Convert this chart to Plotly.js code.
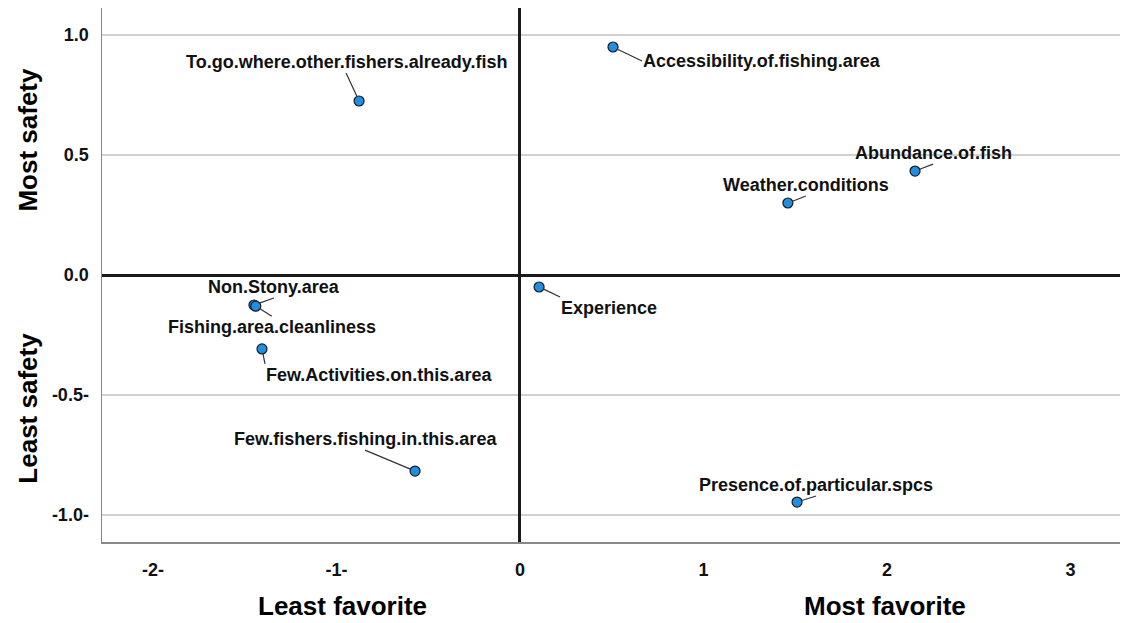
<!DOCTYPE html>
<html>
<head>
<meta charset="utf-8">
<script src="https://cdn.plot.ly/plotly-3.0.1.min.js"></script>
<style>html,body{margin:0;padding:0;background:#fff;}#chart{width:1122px;height:623px;}</style>
</head>
<body>
<div id="chart"></div>
<script>
// ---- data ----
const itemNames = [
  "To.go.where.other.fishers.already.fish",
  "Accessibility.of.fishing.area",
  "Abundance.of.fish",
  "Weather.conditions",
  "Experience",
  "Non.Stony.area",
  "Fishing.area.cleanliness",
  "Few.Activities.on.this.area",
  "Few.fishers.fishing.in.this.area",
  "Presence.of.particular.spcs"
];
const favoriteScores = [-0.877, 0.507, 2.153, 1.46, 0.104, -1.45, -1.44, -1.406, -0.572, 1.51];
const safetyScores   = [0.725, 0.95, 0.433, 0.30, -0.05, -0.125, -0.13, -0.308, -0.817, -0.946];

const xTickVals = [-2, -1, 0, 1, 2, 3];
const xTickText = ["-2-", "-1-", "0", "1", "2", "3"];
const yTickVals = [-1, -0.5, 0, 0.5, 1];
const yTickText = ["-1.0-", "-0.5-", "0.0", "0.5", "1.0"];

// ---- label placement (layout only) ----
const labelPlacement = [
  {ax: -13, ay: -28, xa: "center", ya: "bottom"},
  {ax: 29,  ay: 14,  xa: "left",   ya: "middle"},
  {ax: 18,  ay: -7,  xa: "center", ya: "bottom"},
  {ax: 18,  ay: -7,  xa: "center", ya: "bottom"},
  {ax: 21,  ay: 10,  xa: "left",   ya: "top"},
  {ax: 20,  ay: -7,  xa: "center", ya: "bottom"},
  {ax: 16,  ay: 10,  xa: "center", ya: "top"},
  {ax: 3,   ay: 15,  xa: "left",   ya: "top"},
  {ax: -50, ay: -21, xa: "center", ya: "bottom"},
  {ax: 19,  ay: -6,  xa: "center", ya: "bottom"}
];

const FONT = "Liberation Sans, Arial, Helvetica, sans-serif";

const trace = {
  type: "scatter",
  mode: "markers",
  x: favoriteScores,
  y: safetyScores,
  text: itemNames,
  hoverinfo: "text",
  marker: {size: 10, color: "#1f8fe3", line: {width: 1.2, color: "#1a1a1a"}},
  showlegend: false
};

const annotations = itemNames.map((name, i) => ({
  x: favoriteScores[i], y: safetyScores[i], xref: "x", yref: "y",
  text: name,
  showarrow: true, arrowhead: 0, arrowwidth: 1.2, arrowcolor: "#333",
  standoff: 5,
  ax: labelPlacement[i].ax, ay: labelPlacement[i].ay,
  xanchor: labelPlacement[i].xa, yanchor: labelPlacement[i].ya,
  font: {family: FONT, size: 18, color: "#111", weight: "bold"},
  borderpad: 0
}));

const titleFont = {family: FONT, size: 26, color: "#000", weight: "bold"};
annotations.push(
  {xref: "paper", yref: "paper", x: -0.073, y: 0.753, text: "Most safety", showarrow: false, textangle: -90, font: titleFont, xanchor: "center", yanchor: "middle"},
  {xref: "paper", yref: "paper", x: -0.073, y: 0.251, text: "Least safety", showarrow: false, textangle: -90, font: titleFont, xanchor: "center", yanchor: "middle"},
  {xref: "paper", yref: "paper", x: 0.236, y: -0.12, text: "Least favorite", showarrow: false, font: titleFont, xanchor: "center", yanchor: "middle"},
  {xref: "paper", yref: "paper", x: 0.769, y: -0.12, text: "Most favorite", showarrow: false, font: titleFont, xanchor: "center", yanchor: "middle"}
);

const tickFont = {family: FONT, size: 18, color: "#111", weight: "bold"};

const layout = {
  width: 1122, height: 623,
  margin: {l: 102, r: 2, t: 8, b: 81},
  paper_bgcolor: "#fff", plot_bgcolor: "#fff",
  xaxis: {
    range: [-2.278, 3.27],
    tickvals: xTickVals, ticktext: xTickText,
    showgrid: false,
    zeroline: true, zerolinecolor: "#1a1a1a", zerolinewidth: 3,
    showline: true, linecolor: "#888", linewidth: 1.5, mirror: false,
    ticks: "", ticklabelstandoff: 11,
    tickfont: tickFont
  },
  yaxis: {
    range: [-1.1125, 1.1125],
    tickvals: yTickVals, ticktext: yTickText,
    showgrid: true, gridcolor: "#d0d0d0", gridwidth: 2,
    zeroline: true, zerolinecolor: "#1a1a1a", zerolinewidth: 3,
    showline: true, linecolor: "#888", linewidth: 1.5, mirror: false,
    ticks: "", ticklabelstandoff: 8,
    tickfont: tickFont
  },
  annotations: annotations,
  showlegend: false
};

Plotly.newPlot("chart", [trace], layout, {displayModeBar: false, staticPlot: true});
</script>
</body>
</html>
